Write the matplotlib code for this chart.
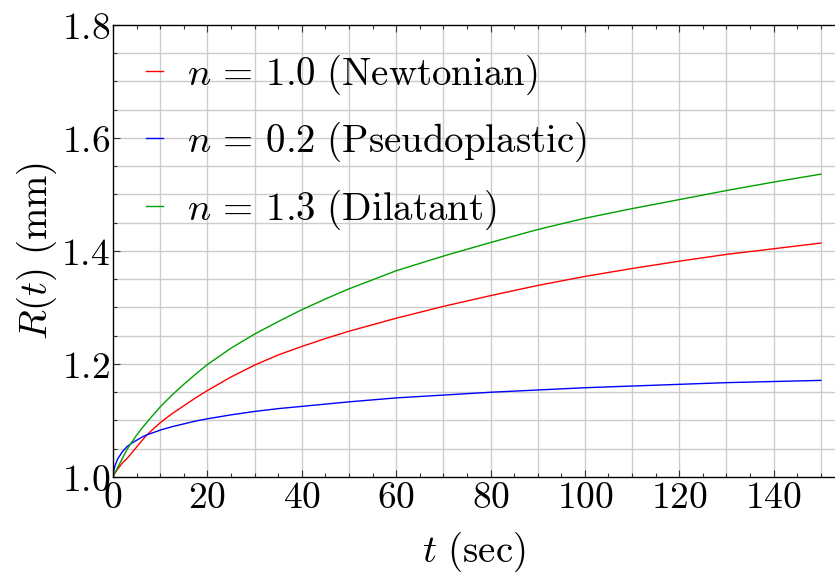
import numpy as np
import matplotlib
matplotlib.use("Agg")
import matplotlib.pyplot as plt
from matplotlib.ticker import MultipleLocator, FuncFormatter

plt.rcParams['mathtext.fontset'] = 'cm'
plt.rcParams['font.family'] = 'serif'
plt.rcParams['font.serif'] = ['DejaVu Serif']

# values
t = [0, 0.2, 0.5, 1, 2, 3, 4, 5, 6, 7, 8, 10, 12.5, 15, 17.5, 20, 25, 30,
     35, 40, 45, 50, 60, 70, 80, 90, 100, 110, 120, 130, 140, 150]
r_newtonian = [1.0, 1.004, 1.008, 1.014, 1.025, 1.033, 1.043, 1.053, 1.063,
               1.073, 1.081, 1.096, 1.112, 1.126, 1.140, 1.153, 1.177,
               1.198, 1.216, 1.231, 1.245, 1.258, 1.281, 1.302, 1.321,
               1.339, 1.355, 1.369, 1.382, 1.394, 1.404, 1.414]
r_pseudo = [1.0, 1.013, 1.022, 1.032, 1.045, 1.054, 1.060, 1.065, 1.070,
            1.074, 1.077, 1.083, 1.089, 1.094, 1.099, 1.103, 1.110,
            1.116, 1.121, 1.125, 1.129, 1.133, 1.140, 1.145, 1.150,
            1.154, 1.158, 1.161, 1.164, 1.167, 1.169, 1.171]
r_dilatant = [1.0, 1.004, 1.009, 1.017, 1.033, 1.049, 1.062, 1.074, 1.085,
              1.095, 1.105, 1.124, 1.145, 1.164, 1.182, 1.199, 1.228,
              1.253, 1.275, 1.296, 1.315, 1.333, 1.365, 1.391, 1.415,
              1.438, 1.458, 1.475, 1.491, 1.507, 1.522, 1.536]

labels = [r"$n\,=\,1.0\ \mathrm{(Newtonian)}$",
          r"$n\,=\,0.2\ \mathrm{(Pseudoplastic)}$",
          r"$n\,=\,1.3\ \mathrm{(Dilatant)}$"]
colors = ["#ff0000", "#0000ff", "#00a000"]

fig = plt.figure(figsize=(8.35, 5.81), dpi=100)
ax = fig.add_axes([113 / 835, 1 - 477 / 581, 1 - 113 / 835, (477 - 25) / 581])

for ys, lab, c in zip([r_newtonian, r_pseudo, r_dilatant], labels, colors):
    ax.plot(t, ys, color=c, lw=1.0, label=lab)

ax.set_xlim(0, 153)
ax.set_ylim(1.0, 1.8)

ax.xaxis.set_major_locator(MultipleLocator(20))
ax.xaxis.set_minor_locator(MultipleLocator(5))
ax.yaxis.set_major_locator(MultipleLocator(0.2))
ax.yaxis.set_minor_locator(MultipleLocator(0.05))
ax.xaxis.set_major_formatter(FuncFormatter(lambda v, p: "$%d$" % round(v)))
ax.yaxis.set_major_formatter(FuncFormatter(lambda v, p: "$%.1f$" % v))

# grid every 10 in x and 0.05 in y
for gx in np.arange(10, 151, 10):
    ax.axvline(gx, color="#cccccc", lw=1.0, zorder=0)
for gy in np.arange(1.05, 1.8, 0.05):
    ax.axhline(gy, color="#cccccc", lw=1.0, zorder=0)

ax.tick_params(which='both', direction='in', top=True, right=False,
               labelsize=27, pad=2, width=0.8, color='#333333')
ax.tick_params(which='major', length=5)
ax.tick_params(which='minor', length=3)
ax.spines['right'].set_visible(False)
for s in ['left', 'bottom', 'top']:
    ax.spines[s].set_linewidth(1.0)

ax.set_xlabel(r"$t\ \mathrm{(sec)}$", fontsize=28, labelpad=10)
ax.set_ylabel(r"$R(t)\ \mathrm{(mm)}$", fontsize=28, labelpad=2)

ax.legend(loc='upper left', frameon=False, fontsize=28, handlelength=0.43,
          handletextpad=0.62, labelspacing=0.6, borderaxespad=0.3,
          bbox_to_anchor=(0.008, 1.0))

fig.savefig("out.png", dpi=100)
